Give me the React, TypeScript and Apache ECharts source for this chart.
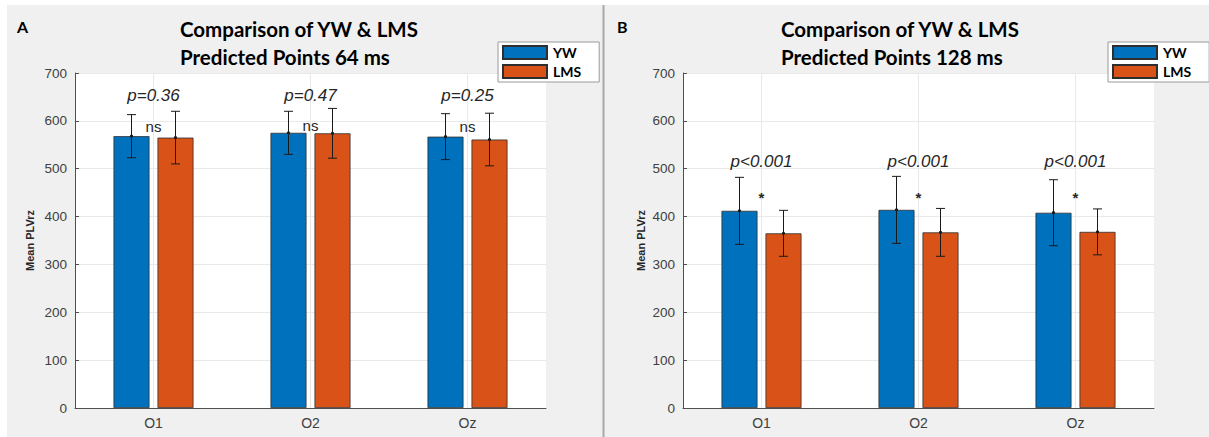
import React, { useEffect, useRef } from "react";
import * as echarts from "echarts";

const CATEGORIES = ["O1", "O2", "Oz"];
const SERIES_NAMES = ["YW", "LMS"];

const YW_MEAN_A = [568, 575, 567];
const YW_ERR_A = [45, 45, 48];
const LMS_MEAN_A = [565, 574, 561];
const LMS_ERR_A = [55, 52, 55];

const YW_MEAN_B = [412, 414, 408];
const YW_ERR_B = [70, 70, 69];
const LMS_MEAN_B = [365, 367, 368];
const LMS_ERR_B = [48, 50, 48];

const P_LABELS_A = ["p=0.36", "p=0.47", "p=0.25"];
const SIG_A = ["ns", "ns", "ns"];
const P_Y_A = [652, 652, 652];
const SIG_Y_A = [588, 590, 588];

const P_LABELS_B = ["p<0.001", "p<0.001", "p<0.001"];
const SIG_B = ["*", "*", "*"];
const P_Y_B = [516, 516, 516];
const SIG_Y_B = [439, 439, 439];

const Y_MIN = 0;
const Y_MAX = 700;
const Y_STEP = 100;

const TITLE_A = ["Comparison of YW & LMS", "Predicted Points 64 ms"];
const TITLE_B = ["Comparison of YW & LMS", "Predicted Points 128 ms"];
const PANEL_LABELS = ["A", "B"];
const Y_NAME = "Mean PLVrz";

const COLORS = ["#0072BD", "#D95319"];
const BAR_W = 36;
const BAR_GAP_PX = 8;

const TXT = "#262626";
const AXIS = "#505050";
const GRIDC = "#e9e9e9";

function vGridSeries(gi: number) {
  return {
    type: "custom",
    xAxisIndex: gi,
    yAxisIndex: gi,
    silent: true,
    z: 1,
    data: CATEGORIES.map((c, i) => [i, Y_MAX]),
    renderItem: (params: any, api: any) => {
      const i = api.value(0);
      const top = api.coord([i, Y_MAX]);
      const bot = api.coord([i, Y_MIN]);
      return {
        type: "line",
        shape: { x1: top[0], y1: top[1], x2: bot[0], y2: bot[1] },
        style: { stroke: GRIDC, lineWidth: 1 },
      };
    },
  };
}

function errSeries(gi: number, means: number[], errs: number[], side: number) {
  const offset = side * (BAR_W + BAR_GAP_PX) / 2;
  return {
    type: "custom",
    xAxisIndex: gi,
    yAxisIndex: gi,
    silent: true,
    z: 4,
    clip: false,
    data: means.map((m, i) => [i, m, errs[i]]),
    renderItem: (params: any, api: any) => {
      const i = api.value(0);
      const m = api.value(1);
      const e = api.value(2);
      const top = api.coord([i, m + e]);
      const bot = api.coord([i, m - e]);
      const mid = api.coord([i, m]);
      const x = mid[0] + offset;
      const st = { stroke: "#1a1a1a", lineWidth: 1 };
      return {
        type: "group",
        children: [
          { type: "line", shape: { x1: x, y1: top[1], x2: x, y2: bot[1] }, style: st },
          { type: "line", shape: { x1: x - 4.5, y1: top[1], x2: x + 4.5, y2: top[1] }, style: st },
          { type: "line", shape: { x1: x - 4.5, y1: bot[1], x2: x + 4.5, y2: bot[1] }, style: st },
          { type: "circle", shape: { cx: x, cy: mid[1], r: 1.6 }, style: { fill: "#1a1a1a" } },
        ],
      };
    },
  };
}

function textSeries(gi: number, labels: string[], ys: number[], font: any) {
  return {
    type: "custom",
    xAxisIndex: gi,
    yAxisIndex: gi,
    silent: true,
    z: 5,
    clip: false,
    data: ys.map((y, i) => [i, y]),
    renderItem: (params: any, api: any) => {
      const p = api.coord([api.value(0), api.value(1)]);
      return {
        type: "text",
        x: p[0],
        y: p[1],
        style: {
          text: labels[params.dataIndex],
          fill: TXT,
          align: "center",
          verticalAlign: "middle",
          ...font,
        },
      };
    },
  };
}

function barSeries(gi: number, idx: number, data: number[]) {
  return {
    type: "bar",
    name: SERIES_NAMES[idx],
    xAxisIndex: gi,
    yAxisIndex: gi,
    data,
    barWidth: BAR_W,
    barGap: (BAR_GAP_PX / BAR_W) * 100 + "%",
    itemStyle: { color: COLORS[idx], borderColor: "#2e2e2e", borderWidth: 0.8 },
    emphasis: { disabled: true },
  };
}

function xAxis(gi: number) {
  return {
    type: "category",
    gridIndex: gi,
    data: CATEGORIES,
    axisLine: { show: true, lineStyle: { color: AXIS, width: 1 } },
    axisTick: { show: true, inside: true, alignWithLabel: true, length: 4, lineStyle: { color: AXIS } },
    axisLabel: { color: "#404040", fontSize: 14, fontFamily: "Liberation Sans", margin: 8 },
    splitLine: { show: false },
  };
}

function yAxis(gi: number, gap: number) {
  return {
    type: "value",
    gridIndex: gi,
    min: Y_MIN,
    max: Y_MAX,
    interval: Y_STEP,
    name: Y_NAME,
    nameLocation: "middle",
    nameGap: gap,
    nameTextStyle: { color: TXT, fontSize: 11, fontWeight: "bold", fontFamily: "Liberation Sans" },
    axisLine: { show: true, lineStyle: { color: AXIS, width: 1 } },
    axisTick: { show: true, inside: true, length: 4, lineStyle: { color: AXIS } },
    axisLabel: { color: "#404040", fontSize: 13.5, fontFamily: "Liberation Sans", margin: 8 },
    splitLine: { show: true, lineStyle: { color: GRIDC, width: 1 } },
  };
}

function legend(left: number) {
  return {
    orient: "vertical",
    left,
    top: 42,
    icon: "rect",
    itemWidth: 44,
    itemHeight: 13,
    itemGap: 4,
    padding: [3, 18, 3, 4],
    backgroundColor: "#ffffff",
    borderColor: "#9a9a9a",
    borderWidth: 1,
    borderRadius: 0,
    selectedMode: false,
    textStyle: { color: "#000", fontSize: 14, fontWeight: "bold", fontFamily: "Lato", lineHeight: 14, padding: [0, 0, 0, 1] },
    data: SERIES_NAMES,
  };
}

function titleTexts(x: number, lines: string[]) {
  return lines.map((t, i) => ({
    type: "text",
    x,
    y: 29 + i * 28,
    style: { text: t, fill: "#000", fontSize: 20.5, fontWeight: "bold", fontFamily: "Lato", align: "left", verticalAlign: "middle" },
  }));
}

export default function App() {
  const ref = useRef<HTMLDivElement>(null);
  useEffect(() => {
    if (!ref.current) return;
    const chart = echarts.init(ref.current, undefined, { renderer: "svg" });
    const pFont = { fontSize: 17, fontStyle: "italic", fontFamily: "Liberation Sans" };
    const option: any = {
      animation: false,
      backgroundColor: "#f0f0f0",
      grid: [
        { left: 75, top: 73, width: 471, height: 335, show: true, backgroundColor: "#ffffff", borderWidth: 0 },
        { left: 683, top: 73, width: 471, height: 335, show: true, backgroundColor: "#ffffff", borderWidth: 0 },
      ],
      legend: [legend(498), legend(1108)],
      xAxis: [xAxis(0), xAxis(1)],
      yAxis: [yAxis(0, 40), yAxis(1, 37)],
      graphic: [
        { type: "rect", shape: { x: 0, y: 0, width: 1209, height: 5 }, style: { fill: "#ffffff" } },
        { type: "rect", shape: { x: 0, y: 0, width: 7, height: 437 }, style: { fill: "#ffffff" } },
        { type: "line", shape: { x1: 603.5, y1: 5, x2: 603.5, y2: 437 }, style: { stroke: "#a8a8a8", lineWidth: 2 } },
        { type: "text", x: 17, y: 26, style: { text: PANEL_LABELS[0], fill: "#000", fontSize: 16, fontWeight: "bold", fontFamily: "Lato", verticalAlign: "middle" } },
        { type: "text", x: 617, y: 26, style: { text: PANEL_LABELS[1], fill: "#000", fontSize: 16, fontWeight: "bold", fontFamily: "Lato", verticalAlign: "middle" } },
        ...titleTexts(180, TITLE_A),
        ...titleTexts(781, TITLE_B),
      ],
      series: [
        vGridSeries(0),
        vGridSeries(1),
        barSeries(0, 0, YW_MEAN_A),
        barSeries(0, 1, LMS_MEAN_A),
        barSeries(1, 0, YW_MEAN_B),
        barSeries(1, 1, LMS_MEAN_B),
        errSeries(0, YW_MEAN_A, YW_ERR_A, -1),
        errSeries(0, LMS_MEAN_A, LMS_ERR_A, 1),
        errSeries(1, YW_MEAN_B, YW_ERR_B, -1),
        errSeries(1, LMS_MEAN_B, LMS_ERR_B, 1),
        textSeries(0, P_LABELS_A, P_Y_A, pFont),
        textSeries(0, SIG_A, SIG_Y_A, { fontSize: 15, fontFamily: "Liberation Sans" }),
        textSeries(1, P_LABELS_B, P_Y_B, pFont),
        textSeries(1, SIG_B, SIG_Y_B, { fontSize: 15, fontWeight: "bold", fontFamily: "Liberation Sans" }),
      ],
    };
    chart.setOption(option);
    return () => chart.dispose();
  }, []);
  return <div ref={ref} style={{ position: "absolute", left: 0, top: 0, width: 1209, height: 437 }} />;
}
